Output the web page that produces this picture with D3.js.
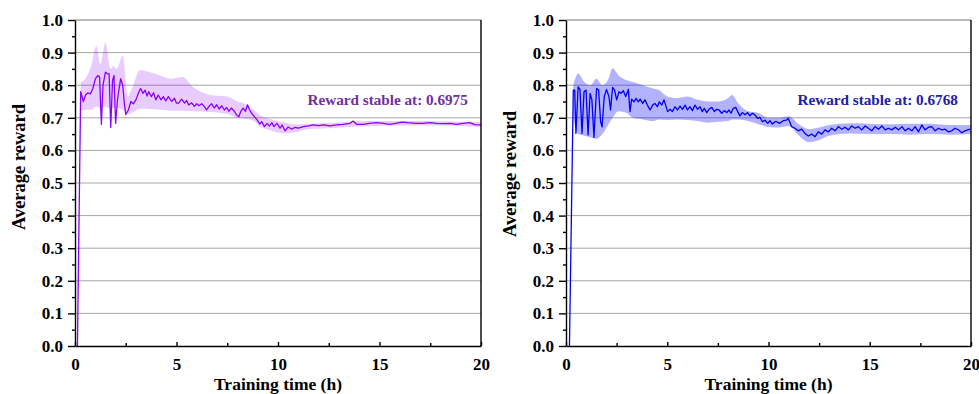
<!DOCTYPE html>
<html>
<head>
<meta charset="utf-8">
<script src="https://cdn.jsdelivr.net/npm/d3@7"></script>
<style>
  body { margin: 0; background: #fff; }
</style>
</head>
<body>
<div id="chart"></div>
<script>
// mean reward, [time (h), reward]
const meanLeft = [
  [0.12, 0.0], [0.28, 0.78], [0.41, 0.75], [0.52, 0.77], [0.64, 0.777], [0.75, 0.773], [0.88, 0.79],
  [1.01, 0.82], [1.13, 0.83], [1.21, 0.825], [1.3, 0.68], [1.38, 0.80], [1.5, 0.84], [1.6, 0.835],
  [1.68, 0.835], [1.76, 0.67], [1.85, 0.815], [1.92, 0.83], [2.0, 0.683], [2.1, 0.76], [2.25, 0.82],
  [2.35, 0.80], [2.43, 0.745], [2.5, 0.71], [2.63, 0.724], [2.75, 0.75], [2.87, 0.743], [3.0, 0.755],
  [3.15, 0.78], [3.23, 0.79], [3.35, 0.775], [3.45, 0.785], [3.55, 0.767], [3.63, 0.78], [3.76, 0.765],
  [3.87, 0.777], [3.98, 0.755], [4.1, 0.77], [4.24, 0.755], [4.35, 0.765], [4.47, 0.752], [4.6, 0.765],
  [4.76, 0.75], [4.9, 0.76], [5.0, 0.745], [5.1, 0.745], [5.25, 0.757], [5.4, 0.745], [5.5, 0.753],
  [5.6, 0.739], [5.75, 0.746], [5.88, 0.735], [6.0, 0.743], [6.1, 0.737], [6.24, 0.743], [6.37, 0.735],
  [6.48, 0.724], [6.6, 0.735], [6.73, 0.743], [6.86, 0.73], [6.98, 0.74], [7.1, 0.727], [7.23, 0.737],
  [7.36, 0.724], [7.47, 0.732], [7.58, 0.72], [7.7, 0.73], [7.85, 0.72], [7.96, 0.709], [8.07, 0.703],
  [8.17, 0.72], [8.28, 0.73], [8.4, 0.72], [8.5, 0.74], [8.6, 0.724], [8.7, 0.714], [8.85, 0.703],
  [8.98, 0.693], [9.1, 0.681], [9.2, 0.688], [9.33, 0.673], [9.46, 0.683], [9.58, 0.675], [9.7, 0.685],
  [9.8, 0.673], [9.95, 0.683], [10.1, 0.668], [10.2, 0.678], [10.35, 0.66], [10.5, 0.672], [10.68, 0.665],
  [10.84, 0.671], [11.0, 0.668], [11.25, 0.673], [11.5, 0.675], [11.74, 0.678], [12.0, 0.676],
  [12.24, 0.678], [12.56, 0.675], [12.9, 0.678], [13.2, 0.68], [13.55, 0.683], [13.7, 0.69], [13.87, 0.68],
  [14.2, 0.68], [14.5, 0.683], [14.85, 0.685], [15.2, 0.683], [15.5, 0.68], [15.8, 0.683], [16.1, 0.687],
  [16.4, 0.685], [16.8, 0.683], [17.1, 0.683], [17.5, 0.685], [17.8, 0.683], [18.2, 0.682], [18.5, 0.683],
  [18.8, 0.68], [19.1, 0.683], [19.45, 0.685], [19.7, 0.679], [20.0, 0.678]
];

// shaded spread, [time (h), lower, upper]
const bandLeft = [
  [0.28, 0.72, 0.81], [0.5, 0.725, 0.82], [0.8, 0.725, 0.86], [1.05, 0.735, 0.92], [1.25, 0.73, 0.865],
  [1.5, 0.735, 0.93], [1.75, 0.73, 0.85], [1.9, 0.73, 0.86], [2.05, 0.73, 0.85], [2.35, 0.725, 0.89],
  [2.48, 0.72, 0.83], [2.6, 0.71, 0.765], [2.8, 0.715, 0.79], [3.2, 0.728, 0.847], [3.7, 0.727, 0.84],
  [4.2, 0.725, 0.83], [4.7, 0.722, 0.82], [5.3, 0.722, 0.825], [5.8, 0.72, 0.795], [6.65, 0.718, 0.77],
  [7.5, 0.712, 0.765], [8.0, 0.70, 0.75], [8.3, 0.698, 0.745], [8.8, 0.69, 0.725], [9.2, 0.67, 0.705],
  [9.6, 0.662, 0.697], [10.0, 0.655, 0.69], [10.4, 0.652, 0.685], [10.8, 0.655, 0.68], [11.5, 0.665, 0.682],
  [12.5, 0.668, 0.684], [13.5, 0.672, 0.688], [14.5, 0.674, 0.69], [16.0, 0.676, 0.69], [17.5, 0.676, 0.69],
  [19.0, 0.675, 0.688], [20.0, 0.672, 0.686]
];

const meanRight = [
  [0.17, 0.0], [0.36, 0.785], [0.43, 0.785], [0.49, 0.652], [0.6, 0.795], [0.69, 0.787], [0.79, 0.652],
  [0.89, 0.78], [0.99, 0.785], [1.09, 0.647], [1.19, 0.775], [1.28, 0.755], [1.38, 0.64], [1.51, 0.79],
  [1.61, 0.785], [1.71, 0.688], [1.78, 0.672], [1.89, 0.765], [2.0, 0.787], [2.12, 0.765], [2.2, 0.724],
  [2.3, 0.793], [2.4, 0.785], [2.5, 0.755], [2.62, 0.78], [2.72, 0.775], [2.83, 0.783], [2.95, 0.765],
  [3.08, 0.787], [3.16, 0.719], [3.24, 0.757], [3.36, 0.749], [3.46, 0.76], [3.57, 0.749], [3.66, 0.757],
  [3.79, 0.744], [3.9, 0.755], [4.02, 0.739], [4.15, 0.724], [4.28, 0.739], [4.39, 0.744], [4.51, 0.734],
  [4.61, 0.749], [4.73, 0.739], [4.84, 0.755], [4.97, 0.729], [5.02, 0.719], [5.14, 0.726], [5.25, 0.719],
  [5.38, 0.734], [5.51, 0.724], [5.63, 0.736], [5.75, 0.726], [5.88, 0.739], [6.0, 0.724], [6.12, 0.734],
  [6.24, 0.722], [6.37, 0.739], [6.5, 0.726], [6.62, 0.734], [6.73, 0.719], [6.83, 0.729], [6.95, 0.716],
  [7.06, 0.726], [7.2, 0.732], [7.33, 0.719], [7.44, 0.726], [7.56, 0.724], [7.69, 0.714], [7.82, 0.722],
  [7.94, 0.716], [8.05, 0.724], [8.15, 0.714], [8.26, 0.729], [8.38, 0.732], [8.48, 0.719], [8.59, 0.706],
  [8.71, 0.716], [8.84, 0.709], [8.97, 0.716], [9.08, 0.706], [9.2, 0.714], [9.33, 0.709], [9.46, 0.698],
  [9.58, 0.701], [9.7, 0.688], [9.83, 0.693], [9.96, 0.683], [10.07, 0.691], [10.19, 0.681], [10.32, 0.688],
  [10.4, 0.688], [10.56, 0.683], [10.73, 0.691], [10.89, 0.693], [10.98, 0.698], [11.14, 0.673],
  [11.31, 0.668], [11.47, 0.66], [11.64, 0.665], [11.8, 0.652], [11.97, 0.644], [12.13, 0.65], [12.3, 0.642],
  [12.46, 0.657], [12.63, 0.65], [12.79, 0.663], [12.96, 0.657], [13.12, 0.668], [13.29, 0.66],
  [13.45, 0.673], [13.62, 0.665], [13.78, 0.671], [13.95, 0.663], [14.11, 0.675], [14.28, 0.668],
  [14.44, 0.673], [14.6, 0.663], [14.77, 0.675], [14.93, 0.668], [15.1, 0.66], [15.26, 0.673], [15.43, 0.665],
  [15.6, 0.675], [15.76, 0.663], [15.92, 0.668], [16.09, 0.663], [16.26, 0.671], [16.42, 0.663],
  [16.59, 0.673], [16.75, 0.66], [16.91, 0.668], [17.08, 0.66], [17.24, 0.673], [17.41, 0.657],
  [17.57, 0.678], [17.73, 0.663], [17.9, 0.671], [18.06, 0.673], [18.23, 0.66], [18.39, 0.668],
  [18.56, 0.663], [18.72, 0.665], [18.88, 0.657], [19.05, 0.66], [19.21, 0.668], [19.38, 0.663],
  [19.54, 0.654], [19.7, 0.66], [19.95, 0.665]
];

const bandRight = [
  [0.36, 0.70, 0.80], [0.6, 0.65, 0.836], [0.9, 0.645, 0.81], [1.2, 0.64, 0.80], [1.5, 0.635, 0.82],
  [1.8, 0.65, 0.80], [2.1, 0.68, 0.82], [2.3, 0.70, 0.852], [2.6, 0.72, 0.83], [3.0, 0.715, 0.815],
  [3.3, 0.70, 0.81], [3.8, 0.695, 0.80], [4.3, 0.69, 0.79], [4.6, 0.695, 0.785], [5.0, 0.693, 0.765],
  [5.5, 0.695, 0.76], [6.0, 0.693, 0.765], [6.5, 0.69, 0.755], [7.0, 0.685, 0.75], [7.5, 0.688, 0.75],
  [8.0, 0.69, 0.76], [8.2, 0.695, 0.77], [8.5, 0.695, 0.745], [9.0, 0.69, 0.72], [9.5, 0.68, 0.715],
  [10.0, 0.672, 0.70], [10.5, 0.67, 0.70], [11.0, 0.675, 0.705], [11.5, 0.645, 0.68], [12.0, 0.625, 0.665],
  [12.5, 0.632, 0.67], [13.0, 0.645, 0.678], [14.0, 0.652, 0.683], [15.0, 0.65, 0.682], [16.0, 0.65, 0.68],
  [17.0, 0.648, 0.682], [18.0, 0.65, 0.682], [19.0, 0.648, 0.678], [20.0, 0.65, 0.678]
];

const xTicks = [0, 5, 10, 15, 20];
const xMinor = [2.5, 7.5, 12.5, 17.5];
const yTicks = d3.range(0, 11).map(i => i / 10);
const yMinor = d3.range(0, 10).map(i => i / 10 + 0.05);
const stableLabels = ["Reward stable at: 0.6975", "Reward stable at: 0.6768"];

const serif = "'Liberation Serif', 'Times New Roman', Tinos, 'DejaVu Serif', serif";
const W = 979, H = 394;
const svg = d3.select("#chart").append("svg").attr("width", W).attr("height", H);

const panels = [
  { mean: meanLeft, band: bandLeft, x0: 75, x1: 481, line: "#8b00ff", fill: "#8b00ff", fillOp: 0.2,
    text: stableLabels[0], textColor: "#7030a0", titleX: 18, titleY: 167 },
  { mean: meanRight, band: bandRight, x0: 566, x1: 971, line: "#0000ff", fill: "#0000ff", fillOp: 0.3,
    text: stableLabels[1], textColor: "#2020a8", titleX: 509, titleY: 174 }
];

const plotTop = 20, plotBottom = 346;

panels.forEach(p => {
  const x = d3.scaleLinear().domain([0, 20]).range([p.x0, p.x1]);
  const y = d3.scaleLinear().domain([0, 1]).range([plotBottom, plotTop]);
  const g = svg.append("g");

  // gridlines
  g.selectAll("line.grid").data(yTicks.slice(1)).enter().append("line")
    .attr("x1", x(0)).attr("x2", x(20))
    .attr("y1", d => y(d)).attr("y2", d => y(d))
    .attr("stroke", d => d === 1 ? "#777" : "#a6a6a6").attr("stroke-width", 1);

  // spread band
  const area = d3.area()
    .x(d => x(d[0])).y0(d => y(d[1])).y1(d => y(d[2]))
    .curve(d3.curveMonotoneX);
  g.append("path").datum(p.band).attr("d", area)
    .attr("fill", p.fill).attr("fill-opacity", p.fillOp);

  // mean line
  const line = d3.line().x(d => x(d[0])).y(d => y(d[1]));
  g.append("path").datum(p.mean).attr("d", line)
    .attr("fill", "none").attr("stroke", p.line).attr("stroke-width", 1.3)
    .attr("stroke-linejoin", "round");

  // y axis
  g.append("g").attr("transform", `translate(${x(0)},0)`)
    .call(d3.axisLeft(y).tickValues(yTicks).tickSize(7).tickSizeOuter(0).tickPadding(5)
      .tickFormat(d3.format(".1f")));
  g.append("g").attr("transform", `translate(${x(0)},0)`)
    .call(d3.axisLeft(y).tickValues(yMinor).tickSize(3).tickSizeOuter(0).tickFormat(""))
    .select(".domain").remove();

  // x axis
  g.append("g").attr("transform", `translate(0,${plotBottom})`)
    .call(d3.axisBottom(x).tickValues(xTicks).tickSize(-4).tickSizeOuter(0).tickPadding(12));
  g.append("g").attr("transform", `translate(0,${plotBottom})`)
    .call(d3.axisBottom(x).tickValues(xMinor).tickSize(-3).tickSizeOuter(0).tickFormat(""))
    .select(".domain").remove();

  g.selectAll(".tick text").attr("font-size", 17).attr("fill", "#000");
  g.selectAll(".domain, .tick line").attr("stroke", "#000").attr("stroke-width", 1.4);

  // right border
  g.append("line").attr("x1", x(20)).attr("x2", x(20)).attr("y1", y(1)).attr("y2", y(0))
    .attr("stroke", "#000").attr("stroke-width", 1.4);

  // annotation
  g.append("text").attr("x", x(19.35)).attr("y", y(0.74))
    .attr("text-anchor", "end").attr("font-size", 15.2).attr("fill", p.textColor)
    .text(p.text);

  // axis titles
  g.append("text").attr("x", (x(0) + x(20)) / 2).attr("y", 390)
    .attr("text-anchor", "middle").attr("font-size", 17.5).text("Training time (h)");
  g.append("text").attr("transform", `translate(${p.titleX + 7},${p.titleY}) rotate(-90)`)
    .attr("text-anchor", "middle").attr("font-size", 18.5).text("Average reward");

  // serif bold everywhere, axis groups included
  g.selectAll("text").attr("font-family", serif).attr("font-weight", "bold");
  g.selectAll("g").attr("font-family", serif);
});
</script>
</body>
</html>
